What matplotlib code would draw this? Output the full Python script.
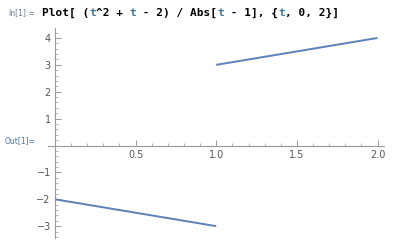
import matplotlib
matplotlib.use("Agg")
import matplotlib.pyplot as plt
from matplotlib.ticker import MultipleLocator

# endpoints of the two line pieces
t_left = [0.0, 1.0]
y_left = [-2.0, -3.0]
t_right = [1.0, 2.0]
y_right = [3.0, 4.0]

x_ticks = [0.5, 1.0, 1.5, 2.0]
x_labels = ["0.5", "1.0", "1.5", "2.0"]
y_ticks = [-3, -2, -1, 1, 2, 3, 4]
y_labels = ["\u22123", "\u22122", "\u22121", "1", "2", "3", "4"]

line_col = "#5E81B5"
axis_col = "#999999"
label_col = "#555555"

W, H = 418, 246
fig = plt.figure(figsize=(W / 100, H / 100), dpi=100)
ax = fig.add_axes([48 / W, 1 - 238 / H, (384 - 48) / W, (238 - 28) / H])

ax.plot(t_left, y_left, color=line_col, lw=1.4, solid_capstyle="butt")
ax.plot(t_right, y_right, color=line_col, lw=1.4, solid_capstyle="butt")

ax.set_xlim(-0.043, 2.04)
ax.set_ylim(-3.44, 4.37)

for s in ["top", "right"]:
    ax.spines[s].set_visible(False)
ax.spines["left"].set_position(("data", 0))
ax.spines["bottom"].set_position(("data", 0))
for s in ["left", "bottom"]:
    ax.spines[s].set_color(axis_col)
    ax.spines[s].set_linewidth(0.8)

ax.set_xticks(x_ticks)
ax.set_xticklabels(x_labels)
ax.set_yticks(y_ticks)
ax.set_yticklabels(y_labels)
ax.xaxis.set_minor_locator(MultipleLocator(0.1))
ax.yaxis.set_minor_locator(MultipleLocator(0.2))
ax.tick_params(axis="both", which="major", direction="in", length=4, width=0.7,
               color=axis_col, labelsize=7, labelcolor=label_col, pad=3)
ax.tick_params(axis="both", which="minor", direction="in", length=2, width=0.5,
               color=axis_col)
ax.patch.set_alpha(0)

fig.text(8 / W, 1 - 13 / H, "In[1]:=", fontsize=5.5, color="#6B7F99", va="center")
parts = [("Plot[ (", "black"), ("t", "#3B7A94"), ("^2 + ", "black"), ("t", "#3B7A94"),
         (" - 2) / Abs[", "black"), ("t", "#3B7A94"), (" - 1], {", "black"),
         ("t", "#3B7A94"), (", 0, 2}]", "black")]
x = 42 / W
renderer = fig.canvas.get_renderer()
for s, c in parts:
    t = fig.text(x, 1 - 13 / H, s, fontsize=8, fontweight="bold",
                 family="DejaVu Sans Mono", color=c, va="center")
    bb = t.get_window_extent(renderer=renderer)
    x += bb.width / W

fig.text(5 / W, 1 - 141 / H, "Out[1]=", fontsize=5.5, color="#4A74A8", va="center")

fig.savefig("out.png", dpi=100)
